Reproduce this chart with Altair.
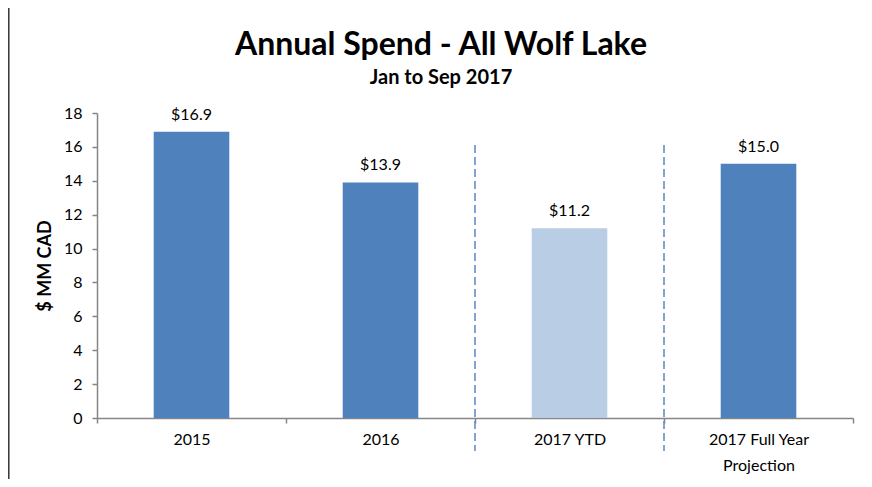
import altair as alt
import pandas as pd

categories = ["2015", "2016", "2017 YTD", "2017 Full Year\nProjection"]
values = [16.9, 13.9, 11.2, 15.0]
kinds = ["Actual", "Actual", "YTD", "Projection"]
value_labels = ["$16.9", "$13.9", "$11.2", "$15.0"]
divider_categories = ["2017 YTD", "2017 Full Year\nProjection"]
y_ticks = [0, 2, 4, 6, 8, 10, 12, 14, 16, 18]

FONT = "Lato"

df = pd.DataFrame({"category": categories, "value": values, "kind": kinds, "label": value_labels})
div_df = pd.DataFrame({"category": divider_categories})

x_scale = alt.Scale(paddingInner=0, paddingOuter=0)
x_axis = alt.Axis(
    title=None, labelAngle=0, tickBand="extent", labelExpr="split(datum.label, '\\n')",
    labelPadding=8, tickSize=5, labelLineHeight=26,
)
y_scale = alt.Scale(domain=[0, 18], nice=False)
y_axis = alt.Axis(values=y_ticks, title="$ MM CAD", titleFontWeight="bold", titleFontSize=18,
                  titleFont=FONT, titleColor="black", grid=False, tickSize=5, labelPadding=10,
                  titlePadding=9, labelOverlap=False, tickCount=10)

bars = alt.Chart(df).mark_bar(width=alt.RelativeBandSize(0.4)).encode(
    x=alt.X("category:N", sort=categories, scale=x_scale, axis=x_axis),
    y=alt.Y("value:Q", scale=y_scale, axis=y_axis),
    color=alt.Color("kind:N", scale=alt.Scale(domain=["Actual", "YTD", "Projection"],
                                              range=["#4F81BD", "#B9CDE5", "#4F81BD"]), legend=None),
)

texts = alt.Chart(df).mark_text(baseline="alphabetic", dy=-12, fontSize=16, font=FONT, color="black").encode(
    x=alt.X("category:N", sort=categories, scale=x_scale, axis=x_axis),
    y=alt.Y("value:Q", scale=y_scale, axis=y_axis),
    text="label:N",
)

rules = alt.Chart(div_df).mark_rule(strokeDash=[8, 4], color="#5B87C0", strokeWidth=1.5).encode(
    x=alt.X("category:N", sort=categories, bandPosition=0, scale=x_scale, axis=x_axis),
    y=alt.value(32),
    y2=alt.value(338),
)

border = alt.Chart(pd.DataFrame({"k": [0]})).mark_rule(color="#333333", strokeWidth=1.5).encode(
    x=alt.value(-88.2), y=alt.value(-105), y2=alt.value(366)
)

chart = alt.layer(bars, texts, rules, border).properties(
    width=756,
    height=305,
    autosize="none",
    padding={"left": 89, "top": 105, "right": 11, "bottom": 61},
    title=alt.Title(
        "Annual Spend - All Wolf Lake",
        subtitle="Jan to Sep 2017",
        font=FONT, fontSize=32, fontWeight="bold", color="black",
        subtitleFont=FONT, subtitleFontSize=20, subtitleFontWeight="bold", subtitleColor="black",
        anchor="middle", frame="group", dx=-34, offset=-82, subtitlePadding=6,
    ),
).configure_view(stroke=None).configure_axis(
    domainColor="#868686", tickColor="#868686", labelColor="black", labelFont=FONT, labelFontSize=16,
    domainWidth=1.5, tickWidth=1.5,
)

chart.save("out.html", embed_options={"renderer": "svg", "actions": False})
